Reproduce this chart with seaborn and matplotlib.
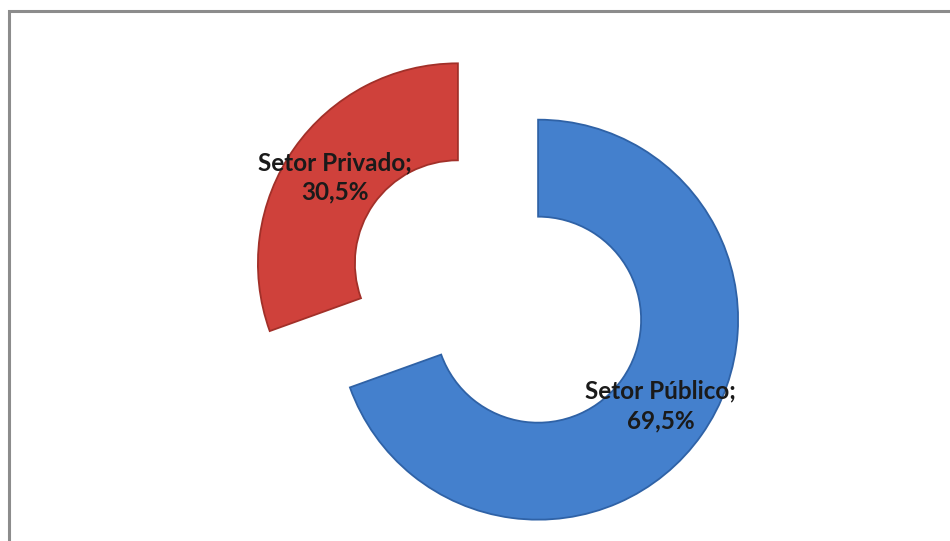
import matplotlib
matplotlib.use("Agg")
import matplotlib.pyplot as plt
import seaborn as sns

# Sector shares (percent)
sectors = ["Setor Público", "Setor Privado"]
shares = [69.5, 30.5]
colors = ["#4480CD", "#CF413B"]
edge_colors = ["#2F62A6", "#A23029"]
explode = [49, 49]

sns.set_theme(style="white")
plt.rcParams["font.family"] = ["Lato", "DejaVu Sans"]

W, H = 950, 541
fig = plt.figure(figsize=(W / 100, H / 100), dpi=100)
ax = fig.add_axes([0, 0, 1, 1])
ax.set_xlim(0, W)
ax.set_ylim(0, H)
ax.set_aspect("equal")
ax.axis("off")

labels = [f"{name};\n{val:.1f}%".replace(".", ",") for name, val in zip(sectors, shares)]

wedges, texts = ax.pie(
    shares,
    labels=labels,
    colors=colors,
    explode=explode,
    center=(498, H - 291.5),
    radius=200,
    startangle=90,
    counterclock=False,
    labeldistance=0.75,
    wedgeprops=dict(width=97, linewidth=1.3),
    textprops=dict(ha="center", va="center", multialignment="center",
                   fontsize=17.5, fontweight="bold", color="#1a1a1a",
                   linespacing=1.32),
    frame=False,
)
for w, ec in zip(wedges, edge_colors):
    w.set_edgecolor(ec)

ax.set_xlim(0, W)
ax.set_ylim(0, H)

# Chart-area border (top and left edges visible within the canvas)
ax.plot([9, 9, W + 5], [-5, H - 11, H - 11], color="#8c8c8c", lw=2.2,
        solid_joinstyle="miter", clip_on=False)

fig.savefig("out.png", dpi=100, facecolor="white")
